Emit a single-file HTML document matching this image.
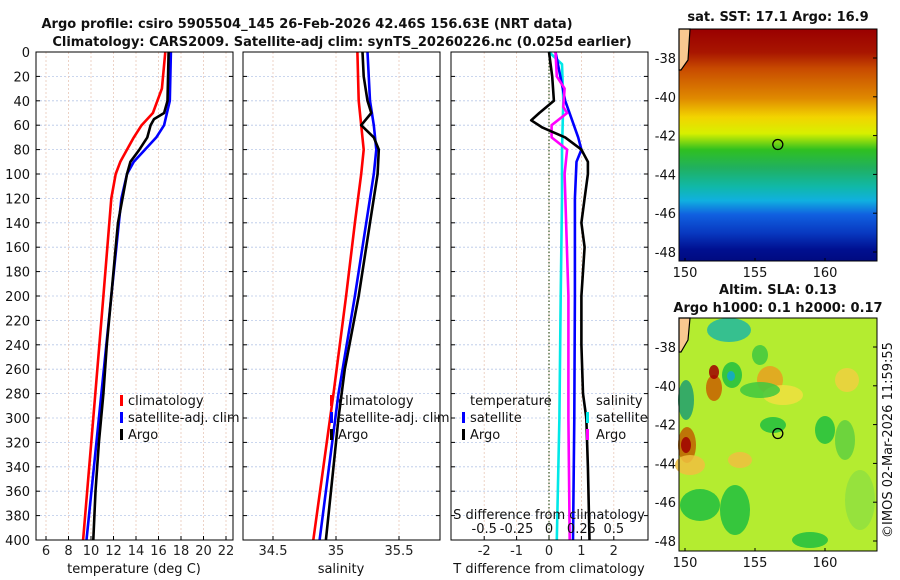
<!DOCTYPE html>
<html><head><meta charset="utf-8">
<style>
body{margin:0;background:#fff;}
svg{display:block;font-family:"DejaVu Sans","Liberation Sans",sans-serif;}
</style></head>
<body>
<svg id="c" width="900" height="580" xmlns="http://www.w3.org/2000/svg">
<defs>
<linearGradient id="sstg" x1="0" y1="0" x2="0" y2="1">
<stop offset="0" stop-color="#9a0000"/><stop offset="0.1" stop-color="#a81500"/>
<stop offset="0.17" stop-color="#c84a00"/><stop offset="0.3" stop-color="#e08a00"/>
<stop offset="0.38" stop-color="#f2d400"/><stop offset="0.45" stop-color="#d8f000"/>
<stop offset="0.52" stop-color="#30c020"/><stop offset="0.6" stop-color="#20b060"/>
<stop offset="0.68" stop-color="#10b8a8"/><stop offset="0.74" stop-color="#10b0e0"/>
<stop offset="0.8" stop-color="#1060e0"/><stop offset="0.88" stop-color="#0838c0"/>
<stop offset="0.95" stop-color="#001090"/><stop offset="1" stop-color="#000a80"/>
</linearGradient>
</defs>
<g id="g"></g>
</svg>
<script>
const depthTicks=[0,20,40,60,80,100,120,140,160,180,200,220,240,260,280,300,320,340,360,380,400];
// temperature profiles
const climTDepth=[0,30,50,60,70,80,90,100,120,200,300,400];
const climTVal=[16.6,16.3,15.5,14.5,13.8,13.2,12.6,12.2,11.8,11.1,10.2,9.3];
const satTDepth=[0,40,60,70,80,90,100,120,200,300,400];
const satTVal=[17.1,17.0,16.5,15.8,14.8,13.8,13.2,12.7,11.8,10.7,9.6];
const argoTDepth=[0,40,50,55,60,70,80,90,100,120,140,160,200,240,280,320,360,400];
const argoTVal=[16.9,16.8,16.5,15.6,15.3,15.0,14.3,13.5,13.2,12.8,12.4,12.2,11.8,11.4,11.1,10.7,10.4,10.2];
// salinity profiles
const climSDepth=[0,40,60,80,100,140,200,280,400];
const climSVal=[35.17,35.18,35.2,35.22,35.2,35.15,35.08,34.98,34.82];
const satSDepth=[0,40,60,80,100,200,280,400];
const satSVal=[35.25,35.27,35.3,35.32,35.3,35.15,35.02,34.87];
const argoSDepth=[0,20,40,50,60,70,80,100,140,200,260,300,340,400];
const argoSVal=[35.21,35.22,35.25,35.28,35.2,35.3,35.34,35.33,35.27,35.18,35.07,35.02,34.98,34.92];
// differences
const argoTdDepth=[0,20,40,50,56,62,70,80,90,100,120,140,160,200,240,280,300,340,400];
const argoTdVal=[0,0.1,0.15,-0.3,-0.55,-0.2,0.5,1.0,1.2,1.2,1.1,1.0,1.1,1.0,1.0,1.05,1.15,1.2,1.25];
const satTdDepth=[0,40,55,70,80,90,120,200,300,400];
const satTdVal=[0.2,0.5,0.7,0.9,1.0,0.85,0.8,0.8,0.78,0.74];
const satSdDepth=[0,10,40,80,120,200,300,400];
const satSdVal=[0.0,0.1,0.11,0.1,0.1,0.09,0.08,0.06];
const argoSdDepth=[0,20,30,45,50,60,70,80,100,200,300,400];
const argoSdVal=[0.05,0.06,0.12,0.11,0.14,0.02,0.02,0.14,0.12,0.15,0.15,0.16];
const tTicks=[6,8,10,12,14,16,18,20,22];
const sTicks=[34.5,35,35.5];
const tdTicks=[-2,-1,0,1,2];
const sdTicks=[-0.5,-0.25,0,0.25,0.5];
const lonTicks=[150,155,160];
const latTicks=[-38,-40,-42,-44,-46,-48];

const NS='http://www.w3.org/2000/svg';
const G=document.getElementById('g');
function el(t,a,txt){const e=document.createElementNS(NS,t);for(const k in a)e.setAttribute(k,a[k]);if(txt!==undefined)e.textContent=txt;G.appendChild(e);return e;}
const Y0=52,Y1=540;
const y=d=>Y0+(Y1-Y0)*d/400;
const P1={x0:36,x1:233},P2={x0:243,x1:440},P3={x0:451,x1:648};
const xT=t=>46+(t-6)*11.25;
const xS=s=>336+(s-35)*126;
const xTd=v=>549+v*32.4;
const xSd=v=>549+v*4*32.4;

function panel(P,name){
  const r=el('rect',{x:P.x0,y:Y0,width:P.x1-P.x0,height:Y1-Y0,fill:'#fff',stroke:'none'});
  
  depthTicks.forEach(d=>{const l=el('line',{x1:P.x0,x2:P.x1,y1:y(d),y2:y(d),stroke:'#b8c8e8','stroke-width':0.8,'stroke-dasharray':'2,2'});
    });
}
function vgrid(P,ticks,fx,labY,fmt,nm){
  ticks.forEach(t=>{const X=fx(t);
    const l=el('line',{x1:X,x2:X,y1:Y0,y2:Y1,stroke:'#e8c8b8','stroke-width':0.8,'stroke-dasharray':'2,2'});
    
    const tk=el('line',{x1:X,x2:X,y1:Y1,y2:Y1-4,stroke:'#000'});
    const tx=el('text',{x:X,y:labY,'font-size':13,'text-anchor':'middle',fill:'#222'},fmt(t));
    });
}
function frame(P,name){const f=el('rect',{x:P.x0,y:Y0,width:P.x1-P.x0,height:Y1-Y0,fill:'none',stroke:'#000','stroke-width':1});
  
  depthTicks.forEach(d=>{el('line',{x1:P.x0,x2:P.x0+4,y1:y(d),y2:y(d),stroke:'#000'});el('line',{x1:P.x1,x2:P.x1-4,y1:y(d),y2:y(d),stroke:'#000'});});}
function line(ds,vs,fx,col,name,w){
  const pts=ds.map((d,i)=>fx(vs[i]).toFixed(1)+','+y(d).toFixed(1)).join(' ');
  const p=el('polyline',{points:pts,fill:'none',stroke:col,'stroke-width':w||2.6,'stroke-linejoin':'round'});
  }
function txt(x,yy,s,o,name){const t=el('text',Object.assign({x:x,y:yy,'font-size':13,fill:'#111'},o||{}),s);
  return t;}
function mark(x,yy,col){const m=el('rect',{x:x,y:yy-10,width:3,height:11,fill:col});}

// Panel 1
panel(P1,'temperature-panel');
vgrid(P1,tTicks,xT,555,t=>t,'x-tick-label');
depthTicks.forEach(d=>txt(30,y(d)+5,d,{'text-anchor':'end'},'y-tick-label'));
line(climTDepth,climTVal,xT,'#f00','climatology-temperature-line');
line(satTDepth,satTVal,xT,'#00f','satellite-temperature-line');
line(argoTDepth,argoTVal,xT,'#000','argo-temperature-line');
frame(P1,'temperature-frame');
txt(134,573,'temperature (deg C)',{'text-anchor':'middle'},'x-axis-title');
mark(120,405,'#f00');txt(128,405,'climatology',{},'legend-entry');
mark(120,422,'#00f');txt(128,422,'satellite-adj. clim',{},'legend-entry');
mark(120,439,'#000');txt(128,439,'Argo',{},'legend-entry');

// Panel 2
panel(P2,'salinity-panel');
vgrid(P2,sTicks,xS,555,t=>t,'x-tick-label');
line(climSDepth,climSVal,xS,'#f00','climatology-salinity-line');
line(satSDepth,satSVal,xS,'#00f','satellite-salinity-line');
line(argoSDepth,argoSVal,xS,'#000','argo-salinity-line');
frame(P2,'salinity-frame');
txt(341,573,'salinity',{'text-anchor':'middle'},'x-axis-title');
mark(330,405,'#f00');txt(338,405,'climatology',{},'legend-entry');
mark(330,422,'#00f');txt(338,422,'satellite-adj. clim',{},'legend-entry');
mark(330,439,'#000');txt(338,439,'Argo',{},'legend-entry');

// Panel 3
panel(P3,'difference-panel');
vgrid(P3,tdTicks,xTd,555,t=>t,'x-tick-label');
el('line',{x1:xTd(0),x2:xTd(0),y1:Y0,y2:Y1,stroke:'#335522','stroke-width':1.2,'stroke-dasharray':'1.5,2'});
line(satSdDepth,satSdVal,xSd,'#00e8e8','satellite-salinity-diff-line');
line(satTdDepth,satTdVal,xTd,'#00f','satellite-temperature-diff-line');
line(argoSdDepth,argoSdVal,xSd,'#f0f','argo-salinity-diff-line');
line(argoTdDepth,argoTdVal,xTd,'#000','argo-temperature-diff-line');
frame(P3,'difference-frame');
sdTicks.forEach(t=>txt(xSd(t),533,String(t),{'text-anchor':'middle'},'top-tick-label'));
txt(549,519,'S difference from climatology',{'text-anchor':'middle'},'top-axis-title');
txt(549,573,'T difference from climatology',{'text-anchor':'middle'},'x-axis-title');
txt(470,405,'temperature',{},'legend-entry');
mark(462,422,'#00f');txt(470,422,'satellite',{},'legend-entry');
mark(462,439,'#000');txt(470,439,'Argo',{},'legend-entry');
txt(596,405,'salinity',{},'legend-entry');
mark(586,422,'#00e8e8');txt(596,422,'satellite',{},'legend-entry');
mark(586,439,'#f0f');txt(596,439,'Argo',{},'legend-entry');

// Titles
txt(307,28,'Argo profile: csiro 5905504_145 26-Feb-2026 42.46S 156.63E (NRT data)',{'text-anchor':'middle','font-weight':'bold'},'chart-title');
txt(342,46,'Climatology: CARS2009. Satellite-adj clim: synTS_20260226.nc (0.025d earlier)',{'text-anchor':'middle','font-weight':'bold'},'chart-subtitle');

// Maps
function map(y0,y1){
  const lonX=l=>685+(l-150)*14;
  const latY=la=>y0+29+(-38-la)*19.4;
  lonTicks.forEach(l=>{txt(lonX(l),y1+16,l,{'text-anchor':'middle'},'lon-tick-label');
    el('line',{x1:lonX(l),x2:lonX(l),y1:y1,y2:y1-3,stroke:'#000'});});
  latTicks.forEach(la=>{txt(676,latY(la)+5,la,{'text-anchor':'end'},'lat-tick-label');
    el('line',{x1:877,x2:873,y1:latY(la),y2:latY(la),stroke:'#000'});});
  return {lonX,latY};
}
let r=el('rect',{x:679,y:29,width:198,height:232,fill:'url(#sstg)'});

const a1=map(29,261);
el('path',{d:'M679,29 L690,29 L688,60 L681,70 L679,70Z',fill:'#f8c890',stroke:'#000','stroke-width':1.2});
el('circle',{cx:a1.lonX(156.63),cy:a1.latY(-42.46),r:5,fill:'none',stroke:'#000','stroke-width':1.3});
el('rect',{x:679,y:29,width:198,height:232,fill:'none',stroke:'#000'});
txt(778,21,'sat. SST: 17.1 Argo: 16.9',{'text-anchor':'middle','font-weight':'bold'},'sst-map-title');

r=el('rect',{x:679,y:318,width:198,height:233,fill:'#b4ec30'});

const blobs=[[714,388,8,13,'#c86000'],[714,372,5,7,'#a00000'],[732,375,10,13,'#20c040'],[731,376,4,5,'#10a8d0'],[729,330,22,12,'#20b8a0'],[770,380,13,14,'#e8a020'],[773,425,13,8,'#20c040'],[825,430,10,14,'#20c040'],[687,445,9,18,'#c06000'],[686,445,5,8,'#a00000'],[700,505,20,16,'#20c040'],[735,510,15,25,'#20c040'],[810,540,18,8,'#20c040'],[847,380,12,12,'#f0d040'],[686,400,8,20,'#20a070'],[783,395,20,10,'#f0e040'],[690,465,15,10,'#f0c040'],[740,460,12,8,'#f0c040'],[760,355,8,10,'#40c840'],[760,390,20,8,'#40c840'],[845,440,10,20,'#60d040'],[860,500,15,30,'#90e040']];
blobs.forEach(b=>{const e=el('ellipse',{cx:b[0],cy:b[1],rx:b[2],ry:b[3],fill:b[4],opacity:0.85});});
const a2=map(318,551);
el('path',{d:'M679,318 L690,318 L688,340 L681,352 L679,352Z',fill:'#f8c890',stroke:'#000','stroke-width':1.2});
el('circle',{cx:a2.lonX(156.63),cy:a2.latY(-42.46),r:5,fill:'none',stroke:'#000','stroke-width':1.3});
el('rect',{x:679,y:318,width:198,height:233,fill:'none',stroke:'#000'});
txt(778,294,'Altim. SLA: 0.13',{'text-anchor':'middle','font-weight':'bold'},'sla-map-title');
txt(778,312,'Argo h1000: 0.1 h2000: 0.17',{'text-anchor':'middle','font-weight':'bold'},'sla-map-subtitle');
txt(0,0,'©IMOS 02-Mar-2026 11:59:55',{'text-anchor':'middle',transform:'translate(892,440) rotate(-90)'},'copyright-label');
</script>
</body></html>
